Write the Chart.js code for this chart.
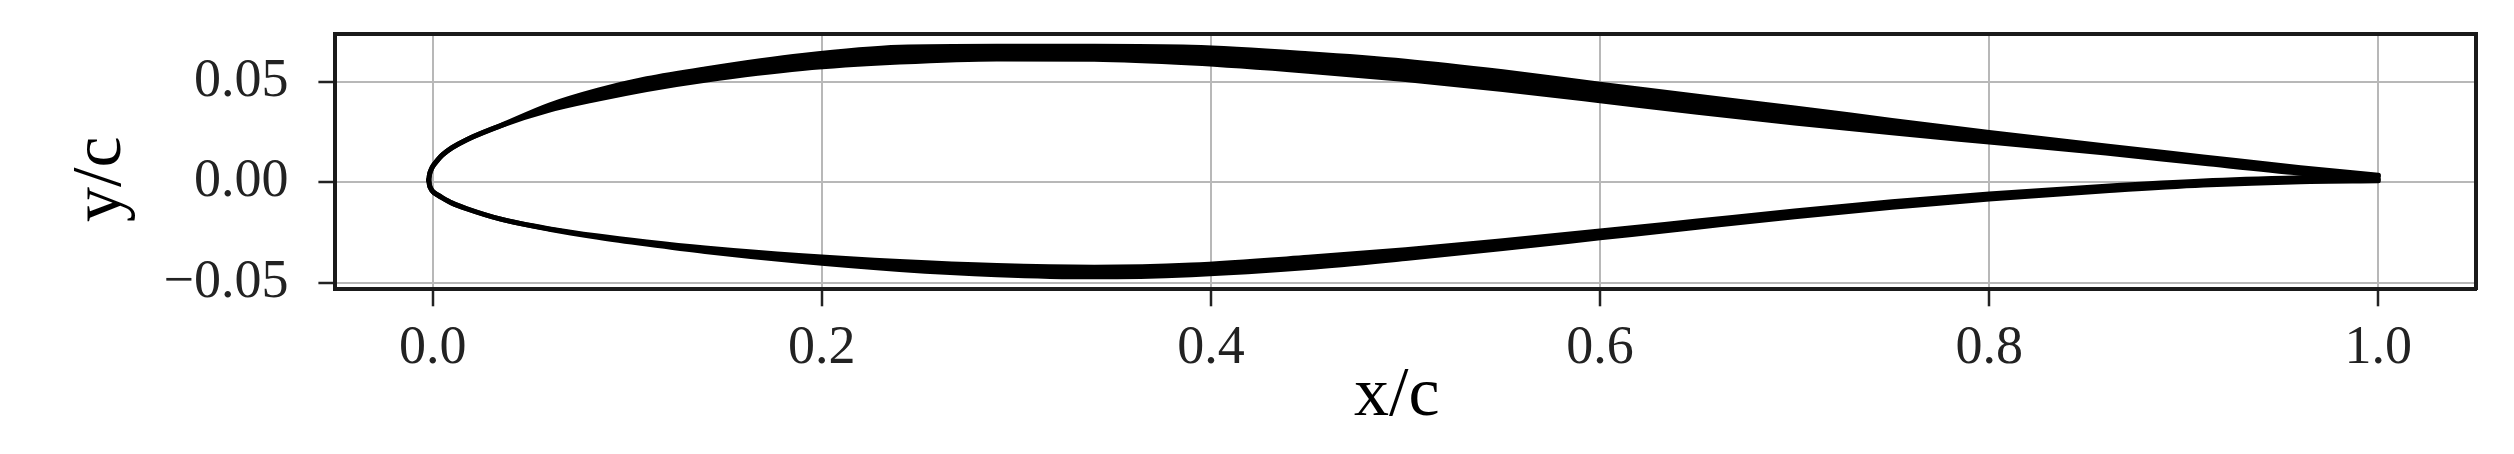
<!DOCTYPE html>
<html>
<head>
<meta charset="utf-8">
<script src="https://cdn.jsdelivr.net/npm/chart.js@4.4.1/dist/chart.umd.min.js"></script>
<style>
  body { margin: 0; background: #fff; }
  canvas { display: block; }
</style>
</head>
<body>
<canvas id="foil" width="2514" height="454"></canvas>
<script>
// chordwise stations, shared by every edge below
var xc = [-0.002, -0.0016, -0.001, 0.0, 0.0025, 0.005, 0.01, 0.0175, 0.035, 0.06, 0.085, 0.11, 0.14, 0.19, 0.24, 0.29, 0.34,
          0.39, 0.45, 0.5, 0.55, 0.6, 0.65, 0.7, 0.75, 0.8, 0.86, 0.91, 0.96, 1.0];

// the plotted airfoil family is a thick band: outer / inner edge of each surface
var upperOuter = [0.0011, 0.0040, 0.0058, 0.0078, 0.0110, 0.0136, 0.0172, 0.0212, 0.0282, 0.0384, 0.0458, 0.0515, 0.0564, 0.0631, 0.0672, 0.0677, 0.0677,
                  0.0672, 0.0640, 0.0603, 0.0550, 0.0488, 0.0428, 0.0370, 0.0308, 0.0248, 0.0180, 0.0126, 0.0072, 0.0035];
var upperInner = [0.0011, 0.0040, 0.0058, 0.0078, 0.0110, 0.0136, 0.0172, 0.0212, 0.0282, 0.0359, 0.0414, 0.0462, 0.0508, 0.0566, 0.0598, 0.0614, 0.0612,
                  0.0593, 0.0553, 0.0512, 0.0462, 0.0406, 0.0348, 0.0295, 0.0246, 0.0200, 0.0145, 0.0094, 0.0045, 0.0015];
var lowerInner = [0.0011, -0.0016, -0.0030, -0.0045, -0.0063, -0.0078, -0.0104, -0.0132, -0.0184, -0.0232, -0.0268, -0.0297, -0.0327, -0.0366, -0.0395, -0.0415, -0.0423,
                  -0.0412, -0.0374, -0.0336, -0.0291, -0.0243, -0.0193, -0.0143, -0.0097, -0.0058, -0.0020, 0.0006, 0.0022, 0.0030];
var lowerOuter = [0.0011, -0.0016, -0.0030, -0.0045, -0.0063, -0.0078, -0.0104, -0.0132, -0.0184, -0.0234, -0.0274, -0.0308, -0.0345, -0.0395, -0.0434, -0.0460, -0.0471,
                  -0.0460, -0.0425, -0.0380, -0.0330, -0.0277, -0.0224, -0.0172, -0.0124, -0.0084, -0.0043, -0.0014, 0.0003, 0.0007];

var xTicks = [0, 0.2, 0.4, 0.6, 0.8, 1.0];
var xTickLabels = ['0.0', '0.2', '0.4', '0.6', '0.8', '1.0'];
var yTicks = [-0.05, 0, 0.05];
var yTickLabels = ['\u22120.05', '0.00', '0.05'];

var xMin = -0.05, xMax = 1.05;
var yMin = -0.0533, yMax = 0.0738;

var serif = 'Liberation Serif';
var spine = { display: true, color: '#1a1a1a', width: 4 };

function pts(ys) {
  return xc.map(function(x, i) { return { x: x, y: ys[i] }; });
}

function edge(label, ys, fill) {
  return {
    label: label,
    data: pts(ys),
    showLine: true,
    fill: fill,
    borderColor: '#000',
    backgroundColor: '#000',
    borderWidth: 5,
    borderCapStyle: 'round',
    borderJoinStyle: 'round',
    cubicInterpolationMode: 'monotone',
    pointRadius: 0,
    pointHoverRadius: 0
  };
}

new Chart(document.getElementById('foil'), {
  type: 'scatter',
  data: {
    datasets: [
      edge('upper outer', upperOuter, '+1'),
      edge('upper inner', upperInner, false),
      edge('lower inner', lowerInner, '+1'),
      edge('lower outer', lowerOuter, false)
    ]
  },
  options: {
    responsive: false,
    animation: false,
    devicePixelRatio: 1,
    layout: { padding: 0 },
    plugins: { legend: { display: false }, tooltip: { enabled: false } },
    scales: {
      x: {
        type: 'linear', position: 'bottom', min: xMin, max: xMax,
        afterBuildTicks: function(s) { s.ticks = xTicks.map(function(v) { return { value: v }; }); },
        afterFit: function(s) { s.height = 164.7; s.paddingLeft = 0; s.paddingRight = 0; },
        ticks: {
          callback: function(v, i) { return xTickLabels[i]; },
          font: { family: serif, size: 54 }, color: '#222', padding: 10,
          maxRotation: 0, autoSkip: false
        },
        grid: { color: '#b8b8b8', lineWidth: 2, tickColor: '#222', tickWidth: 2.5, tickLength: 17 },
        border: spine,
        title: { display: true, text: 'x/c ', font: { family: serif, size: 70 }, color: '#000', padding: { top: 0, bottom: 15 } }
      },
      y: {
        type: 'linear', position: 'left', min: yMin, max: yMax,
        afterBuildTicks: function(s) { s.ticks = yTicks.map(function(v) { return { value: v }; }); },
        afterFit: function(s) { s.width = 335.4; s.paddingTop = 0; s.paddingBottom = 0; },
        ticks: {
          callback: function(v, i) { return yTickLabels[i]; },
          font: { family: serif, size: 54 }, color: '#222', padding: 30
        },
        grid: { color: '#b8b8b8', lineWidth: 2, tickColor: '#222', tickWidth: 2.5, tickLength: 17 },
        border: spine,
        title: { display: true, text: 'y/c  ', font: { family: serif, size: 70 }, color: '#000', padding: { top: 60, bottom: 0 } }
      },
      x2: {
        axis: 'x', type: 'linear', position: 'top', min: xMin, max: xMax,
        grid: { display: false }, ticks: { display: false }, border: spine,
        afterFit: function(s) { s.height = 34; s.paddingLeft = 0; s.paddingRight = 0; }
      },
      y2: {
        axis: 'y', type: 'linear', position: 'right', min: yMin, max: yMax,
        grid: { display: false }, ticks: { display: false }, border: spine,
        afterFit: function(s) { s.width = 38.4; s.paddingTop = 0; s.paddingBottom = 0; }
      }
    }
  }
});
</script>
</body>
</html>
